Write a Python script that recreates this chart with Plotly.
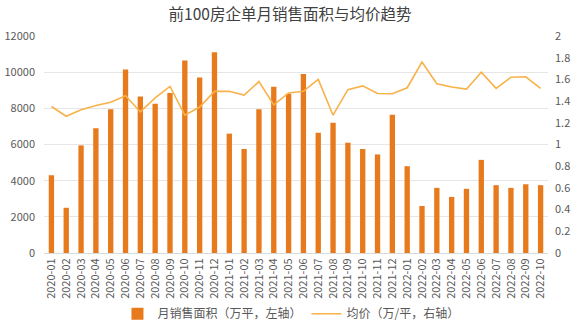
import plotly.graph_objects as go

months = ["2020-01","2020-02","2020-03","2020-04","2020-05","2020-06","2020-07","2020-08","2020-09","2020-10","2020-11","2020-12",
          "2021-01","2021-02","2021-03","2021-04","2021-05","2021-06","2021-07","2021-08","2021-09","2021-10","2021-11","2021-12",
          "2022-01","2022-02","2022-03","2022-04","2022-05","2022-06","2022-07","2022-08","2022-09","2022-10"]
area = [4300, 2500, 5950, 6900, 7950, 10150, 8650, 8250, 8850, 10650, 9700, 11100,
        6600, 5750, 7950, 9200, 8800, 9900, 6650, 7200, 6100, 5750, 5450, 7650,
        4800, 2600, 3600, 3100, 3550, 5150, 3750, 3600, 3800, 3750]
price = [1.35, 1.26, 1.32, 1.36, 1.39, 1.45, 1.30, 1.43, 1.535, 1.27, 1.345, 1.49,
         1.49, 1.455, 1.58, 1.365, 1.475, 1.49, 1.60, 1.27, 1.505, 1.54, 1.47, 1.468,
         1.523, 1.76, 1.56, 1.53, 1.51, 1.667, 1.517, 1.62, 1.624, 1.517]

left_ticks = [0, 2000, 4000, 6000, 8000, 10000, 12000]
left_labels = ["0", "2000", "4000", "6000", "8000", "10000", "12000"]
right_ticks = [0, 0.2, 0.4, 0.6, 0.8, 1, 1.2, 1.4, 1.6, 1.8, 2]
right_labels = ["0", "0.2", "0.4", "0.6", "0.8", "1", "1.2", "1.4", "1.6", "1.8", "2"]

font_family = "Noto Sans CJK SC, Noto Sans, sans-serif"

fig = go.Figure()
fig.add_trace(go.Bar(x=months, y=area, name="月销售面积（万平，左轴）",
                     marker=dict(color="#E87A1E", line=dict(width=0)), yaxis="y"))
fig.add_trace(go.Scatter(x=months, y=price, name="均价（万/平，右轴）", mode="lines",
                         line=dict(color="#F8B24A", width=1.6), yaxis="y2"))

fig.update_layout(
    width=580, height=326,
    margin=dict(l=44, r=32, t=36, b=73, autoexpand=False),
    paper_bgcolor="white", plot_bgcolor="white",
    font=dict(family=font_family, color="#595959", size=11),
    title=dict(text="前100房企单月销售面积与均价趋势", x=0.5, xanchor="center", y=0.955, yanchor="middle",
               font=dict(size=15.5, color="#404040", family=font_family)),
    bargap=0.64,
    showlegend=True,
    legend=dict(orientation="h", x=0.49, xanchor="center", y=-0.28, yanchor="middle",
                font=dict(size=12, color="#595959"), itemwidth=30, traceorder="normal"),
    xaxis=dict(type="category", tickangle=-90, tickfont=dict(size=11, color="#595959"),
               showgrid=False, showline=True, linecolor="#D9D9D9", ticks="", automargin=False),
    yaxis=dict(range=[0, 12000], tickvals=left_ticks, ticktext=left_labels, showgrid=True, gridcolor="#E6E6E6",
               zeroline=False, showline=False, ticks="", tickfont=dict(size=11, color="#595959"),
               ticklabelstandoff=8, automargin=False),
    yaxis2=dict(range=[0, 2], tickvals=right_ticks, ticktext=right_labels, overlaying="y", side="right", showgrid=False,
                zeroline=False, showline=False, ticks="", tickfont=dict(size=11, color="#595959"),
                ticklabelstandoff=6, automargin=False),
)

fig.write_html("out.html")
